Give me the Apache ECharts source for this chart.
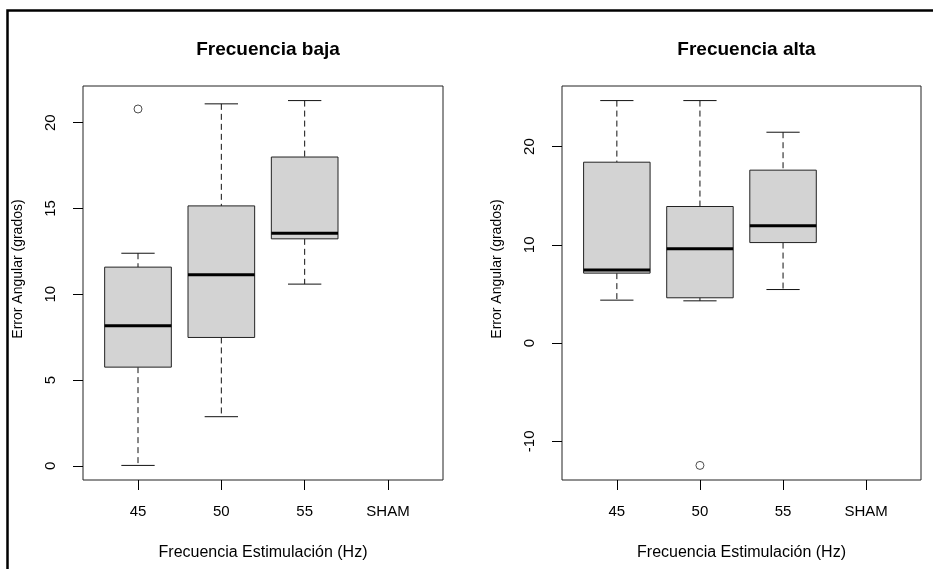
<!DOCTYPE html>
<html>
<head>
<meta charset="utf-8">
<script src="https://cdn.jsdelivr.net/npm/echarts@6/dist/echarts.min.js"></script>
<style>
html,body{margin:0;padding:0;background:#fff;}
#chart{width:933px;height:569px;}
</style>
</head>
<body>
<div id="chart"></div>
<script>
// ---- data ----
var categories = ['45', '50', '55', 'SHAM'];
var panelTitles = ['Frecuencia baja', 'Frecuencia alta'];
var xAxisName = 'Frecuencia Estimulación (Hz)';
var yAxisName = 'Error Angular (grados)';

// Frecuencia baja: per category [lowWhisker, Q1, median, Q3, highWhisker]
var bajaLow    = [0.02, 2.86, 10.59];
var bajaQ1     = [5.75, 7.48, 13.23];
var bajaMedian = [8.16, 11.13, 13.56];
var bajaQ3     = [11.58, 15.15, 18.00];
var bajaHigh   = [12.39, 21.10, 21.29];
var bajaOutliers = [[1, 20.80]];
var bajaTicks = [0, 5, 10, 15, 20];

// Frecuencia alta
var altaLow    = [4.37, 4.30, 5.45];
var altaQ1     = [7.12, 4.61, 10.23];
var altaMedian = [7.43, 9.59, 11.93];
var altaQ3     = [18.41, 13.90, 17.60];
var altaHigh   = [24.68, 24.68, 21.46];
var altaOutliers = [[2, -12.45]];
var altaTicks = [-10, 0, 10, 20];

var catPositions = [1, 2, 3, 4];

// ---- build ----
function boxData(lo, q1, md, q3, hi) {
  var out = [];
  for (var i = 0; i < lo.length; i++) out.push([i + 1, lo[i], q1[i], md[i], q3[i], hi[i]]);
  return out;
}
function yRange(lo, hi, outl) {
  var vals = lo.concat(hi);
  outl.forEach(function (p) { vals.push(p[1]); });
  var mn = Math.min.apply(null, vals), mx = Math.max.apply(null, vals);
  var pad = (mx - mn) * 0.04;
  return [mn - pad, mx + pad];
}
var FONT = 'Liberation Sans, Arial, Helvetica, sans-serif';

function renderBox(params, api) {
  var x = api.value(0);
  var lo = api.value(1), q1 = api.value(2), md = api.value(3), q3 = api.value(4), hi = api.value(5);
  var hb = 0.4, hc = 0.2;
  var c = api.coord([x, md]);
  var tl = api.coord([x - hb, q3]);
  var br = api.coord([x + hb, q1]);
  var pHi = api.coord([x, hi]);
  var pLo = api.coord([x, lo]);
  var pQ3 = api.coord([x, q3]);
  var pQ1 = api.coord([x, q1]);
  var capL = api.coord([x - hc, hi])[0];
  var capR = api.coord([x + hc, hi])[0];
  var dash = {stroke: '#111', lineWidth: 1, lineDash: [6, 4], fill: null};
  var solid = {stroke: '#111', lineWidth: 1, fill: null};
  return {
    type: 'group',
    children: [
      {type: 'line', shape: {x1: pHi[0], y1: pHi[1], x2: pQ3[0], y2: pQ3[1]}, style: dash},
      {type: 'line', shape: {x1: pQ1[0], y1: pQ1[1], x2: pLo[0], y2: pLo[1]}, style: dash},
      {type: 'line', shape: {x1: capL, y1: pHi[1], x2: capR, y2: pHi[1]}, style: solid},
      {type: 'line', shape: {x1: capL, y1: pLo[1], x2: capR, y2: pLo[1]}, style: solid},
      {type: 'rect', shape: {x: tl[0], y: tl[1], width: br[0] - tl[0], height: br[1] - tl[1]},
        style: {fill: '#d3d3d3', stroke: '#222', lineWidth: 1}},
      {type: 'line', shape: {x1: tl[0], y1: c[1], x2: br[0], y2: c[1]}, style: {stroke: '#000', lineWidth: 3}}
    ]
  };
}

var panels = [
  {title: panelTitles[0], data: boxData(bajaLow, bajaQ1, bajaMedian, bajaQ3, bajaHigh), outl: bajaOutliers,
   ticks: bajaTicks, range: yRange(bajaLow, bajaHigh, bajaOutliers), left: 83, right: 490},
  {title: panelTitles[1], data: boxData(altaLow, altaQ1, altaMedian, altaQ3, altaHigh), outl: altaOutliers,
   ticks: altaTicks, range: yRange(altaLow, altaHigh, altaOutliers), left: 562, right: 12}
];

var option = {
  animation: false,
  backgroundColor: '#fff',
  textStyle: {fontFamily: FONT},
  title: [],
  grid: [], xAxis: [], yAxis: [], series: [],
  graphic: [{
    type: 'rect', left: 5, top: 8, z: 100, silent: true,
    shape: {width: 1000, height: 1000},
    style: {fill: null, stroke: '#000', lineWidth: 2.5}
  }]
};

panels.forEach(function (p, k) {
  option.title.push({
    text: p.title, left: (k === 0 ? 263 : 741.5), top: 35, textAlign: 'center',
    textStyle: {fontFamily: FONT, fontSize: 19, fontWeight: 'bold', color: '#000'}
  });
  option.grid.push({left: p.left, right: p.right, top: 86, bottom: 89, show: true,
    borderColor: '#222', borderWidth: 1, backgroundColor: 'transparent'});
  option.xAxis.push({
    type: 'value', gridIndex: k, min: 0.34, max: 4.66,
    name: xAxisName, nameLocation: 'middle', nameGap: 65,
    nameTextStyle: {fontFamily: FONT, fontSize: 16, color: '#000'},
    axisLine: {show: false, onZero: false}, splitLine: {show: false},
    axisTick: {show: true, customValues: catPositions, length: 10, lineStyle: {color: '#000', width: 1}},
    axisLabel: {show: true, customValues: catPositions, margin: 24, fontFamily: FONT, fontSize: 15, color: '#000',
      formatter: function (v) { return categories[Math.round(v) - 1]; }}
  });
  option.yAxis.push({
    type: 'value', gridIndex: k, min: p.range[0], max: p.range[1],
    name: yAxisName, nameLocation: 'middle', nameGap: 58,
    nameTextStyle: {fontFamily: FONT, fontSize: 14, color: '#000', padding: [0, 0, 0, 28]},
    axisLine: {show: false, onZero: false}, splitLine: {show: false},
    axisTick: {show: true, customValues: p.ticks, length: 10, lineStyle: {color: '#000', width: 1}},
    axisLabel: {show: true, customValues: p.ticks, rotate: 90, margin: 25, fontFamily: FONT, fontSize: 15, color: '#000'}
  });
  option.series.push({
    type: 'custom', xAxisIndex: k, yAxisIndex: k, renderItem: renderBox,
    encode: {x: 0, y: [1, 2, 3, 4, 5]}, data: p.data, clip: false
  });
  option.series.push({
    type: 'scatter', xAxisIndex: k, yAxisIndex: k, symbol: 'circle', symbolSize: 8,
    itemStyle: {color: '#fff', borderColor: '#222', borderWidth: 1}, data: p.outl, silent: true, z: 5
  });
});

var chart = echarts.init(document.getElementById('chart'), null, {renderer: 'canvas'});
chart.setOption(option);
</script>
</body>
</html>
